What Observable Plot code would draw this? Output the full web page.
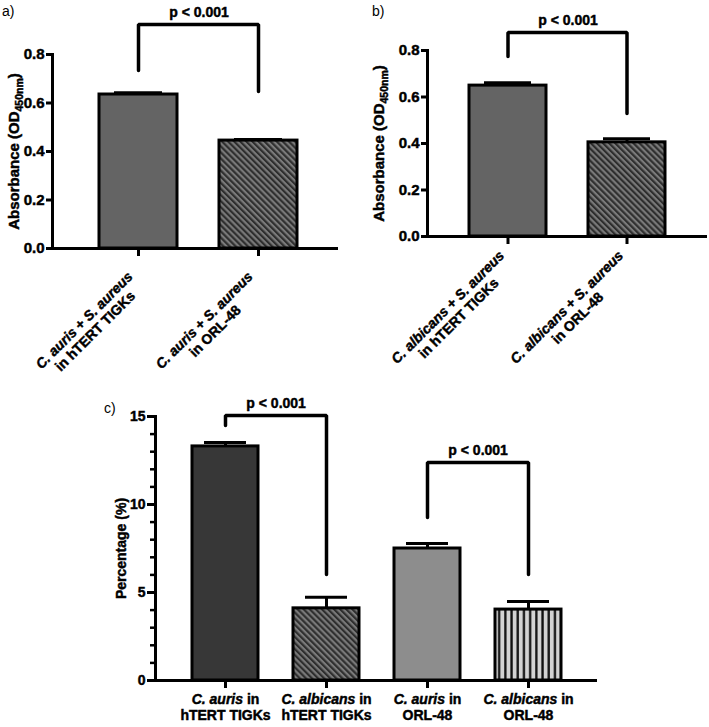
<!DOCTYPE html>
<html>
<head>
<meta charset="utf-8">
<script src="https://cdn.jsdelivr.net/npm/d3@7"></script>
<script src="https://cdn.jsdelivr.net/npm/@observablehq/plot@0.6"></script>
<style>
  body { margin: 0; background: #fff; }
  #fig { position: relative; width: 709px; height: 727px; font-family: "Liberation Sans", Arial, Helvetica, sans-serif; }
  #fig svg text { font-weight: bold; stroke: #000; stroke-width: 0.45px; }
  .tag { position: absolute; font-size: 14px; color: #000; line-height: 1; }
</style>
</head>
<body>
<svg width="0" height="0" style="position:absolute">
  <defs>
    <pattern id="diag" width="4.3" height="4.3" patternUnits="userSpaceOnUse" patternTransform="rotate(-45)">
      <rect width="4.3" height="4.3" fill="#7a7a7a"></rect>
      <rect width="2.15" height="4.3" fill="#2e2e2e"></rect>
    </pattern>
    <pattern id="vert" width="6.2" height="10" patternUnits="userSpaceOnUse">
      <rect width="6.2" height="10" fill="#d3d3d3"></rect>
      <rect x="2" width="2.3" height="10" fill="#111111"></rect>
    </pattern>
  </defs>
</svg>
<div id="fig">
  <div class="tag" style="left:2px;top:4px">a)</div>
  <div class="tag" style="left:372px;top:4px">b)</div>
  <div class="tag" style="left:104px;top:401px">c)</div>
</div>
<script>
// Panel a: biofilm absorbance, C. auris + S. aureus
const groupsA = ["C. auris + S. aureus\nin hTERT TIGKs", "C. auris + S. aureus\nin ORL-48"];
const meansA = [0.635, 0.445];
const semA = [0.007, 0.004];

// Panel b: biofilm absorbance, C. albicans + S. aureus
const groupsB = ["C. albicans + S. aureus\nin hTERT TIGKs", "C. albicans + S. aureus\nin ORL-48"];
const meansB = [0.649, 0.405];
const semB = [0.012, 0.015];

// Panel c: percentage per cell line
const groupsC = ["C. auris in\nhTERT TIGKs", "C. albicans in\nhTERT TIGKs", "C. auris in\nORL-48", "C. albicans in\nORL-48"];
const meansC = [13.3, 4.1, 7.5, 4.03];
const semC = [0.22, 0.63, 0.28, 0.46];

// Axis ticks and labels
const ticksAB = [0, 0.2, 0.4, 0.6, 0.8];
const ticksC = [0, 5, 10, 15];
const minorTicksC = d3.range(0, 16);
const yLabelAbs = "Absorbance (OD450nm)";
const yLabelPct = "Percentage (%)";
const pLabel = "p < 0.001";

// Significance brackets: y of left foot, top, top, right foot
const bracketA = [0.734, 0.924, 0.924, 0.647];
const bracketB = [0.774, 0.877, 0.877, 0.529];
const bracketC1 = [14.49, 15.06, 15.06, 6.02];
const bracketC2 = [9.26, 12.39, 12.39, 6.02];

// Bar fills
const fillsAB = ["#646464", "url(#diag)"];
const fillsC = ["#373737", "url(#diag)", "#8d8d8d", "url(#vert)"];

const FONT = '"Liberation Sans", Arial, Helvetica, sans-serif';
const baseStyle = {fontFamily: FONT, color: "black", background: "transparent", overflow: "visible"};
const fig = document.getElementById("fig");

function rowsOf(groups, means, sems) {
  return groups.map((g, i) => ({group: g, mean: means[i], sem: sems[i]}));
}

function barMarks(rows, fills, capInset) {
  return [
    ...rows.map((r, i) => Plot.barY([r], {x: "group", y: "mean", fill: fills[i], stroke: "black", strokeWidth: 3})),
    Plot.ruleX(rows, {x: "group", y1: "mean", y2: d => d.mean + d.sem, strokeWidth: 3}),
    Plot.tickY(rows, {x: "group", y: d => d.mean + d.sem, strokeWidth: 3, inset: capInset})
  ];
}

function bracketMarks(ys, g0, g1, dx, dy) {
  const xs = [g0, g0, g1, g1];
  return [
    Plot.line(ys, {x: (d, i) => xs[i], y: d => d, strokeWidth: 3.5, strokeLinejoin: "miter"}),
    Plot.text([pLabel], {x: () => g0, y: () => ys[1], dx, dy, lineAnchor: "bottom", fontSize: 14, fontWeight: "bold"})
  ];
}

function absorbancePanel(groups, means, sems, bracket, o) {
  const rows = rowsOf(groups, means, sems);
  return Plot.plot({
    width: o.width, height: 400,
    marginLeft: o.ml, marginRight: o.mr, marginTop: o.mt, marginBottom: 400 - o.y0,
    style: baseStyle,
    x: {domain: groups, paddingInner: 0.35, paddingOuter: o.po, align: o.align, label: null},
    y: {domain: [0, 0.8], label: null},
    marks: [
      ...barMarks(rows, fillsAB, 15),
      Plot.frame({anchor: "left", strokeWidth: 3}),
      Plot.ruleY([0], {strokeWidth: 3}),
      Plot.axisY({ticks: ticksAB, tickFormat: d3.format(".1f"), tickSize: 6, tickPadding: 2, strokeWidth: 3,
                  fontSize: 15, fontWeight: "bold", label: null}),
      Plot.axisX({tickSize: 8, strokeWidth: 3, tickFormat: () => "", label: null}),
      Plot.text(groups, {x: d => d, frameAnchor: "bottom", rotate: -45, textAnchor: "middle", lineAnchor: "middle",
                         lineHeight: 1.1, fontSize: 14, fontWeight: "bold", dx: o.ldx, dy: o.ldy}),
      Plot.text([yLabelAbs], {frameAnchor: "left", rotate: -90, dx: o.ydx, textAnchor: "middle", lineAnchor: "middle",
                              fontSize: 15, fontWeight: "bold"}),
      ...bracketMarks(bracket, groups[0], groups[1], o.pdx, o.pdy)
    ]
  });
}

const plotA = absorbancePanel(groupsA, meansA, semA, bracketA,
  {width: 345, ml: 52, mr: 7, mt: 54, y0: 248, po: 0.357, align: 0.53, ldx: -49, ldy: 77, ydx: -38.5, pdx: 60.5, pdy: -7});
const plotB = absorbancePanel(groupsB, meansB, semB, bracketB,
  {width: 354, ml: 72, mr: 2, mt: 50, y0: 236, po: 0.342, align: 0.5, ldx: -55, ldy: 76, ydx: -48, pdx: 60, pdy: -8});

const rowsC = rowsOf(groupsC, meansC, semC);
const plotC = Plot.plot({
  width: 709, height: 347,
  marginLeft: 155, marginRight: 112, marginTop: 36, marginBottom: 47,
  style: baseStyle,
  x: {domain: groupsC, paddingInner: 0.35, paddingOuter: 0.357, label: null},
  y: {domain: [0, 15], label: null},
  marks: [
    ...barMarks(rowsC, fillsC, 12),
    Plot.frame({anchor: "left", strokeWidth: 3}),
    Plot.ruleY([0], {strokeWidth: 3}),
    Plot.axisY({ticks: minorTicksC, tickSize: 5, tickFormat: () => "", strokeWidth: 2.5, label: null}),
    Plot.axisY({ticks: ticksC, tickSize: 8, tickPadding: 2, strokeWidth: 3, fontSize: 14, fontWeight: "bold", label: null}),
    Plot.axisX({tickSize: 8, tickPadding: 5, strokeWidth: 3, fontSize: 14, fontWeight: "bold", lineHeight: 1.1, label: null}),
    Plot.text([yLabelPct], {frameAnchor: "left", rotate: -90, dx: -34, textAnchor: "middle", lineAnchor: "middle",
                            fontSize: 14, fontWeight: "bold"}),
    ...bracketMarks(bracketC1, groupsC[0], groupsC[1], 50.6, -7),
    ...bracketMarks(bracketC2, groupsC[2], groupsC[3], 50.6, -7)
  ]
});

const NS = "http://www.w3.org/2000/svg";

// Species names in italics
function italicize(svg) {
  svg.querySelectorAll("text").forEach(text => {
    const lines = Array.from(text.querySelectorAll("tspan"));
    const targets = lines.length ? lines : [text];
    for (const el of targets) {
      const s = el.textContent;
      if (!/(C\. auris|C\. albicans|S\. aureus)/.test(s)) continue;
      el.textContent = "";
      for (const part of s.split(/(C\. auris|C\. albicans|S\. aureus)/)) {
        if (!part) continue;
        const t = document.createElementNS(NS, "tspan");
        if (/^(C\. auris|C\. albicans|S\. aureus)$/.test(part)) t.setAttribute("font-style", "italic");
        t.textContent = part;
        el.appendChild(t);
      }
    }
  });
}

// Subscript wavelength in the absorbance label
function subscript(svg) {
  svg.querySelectorAll("text").forEach(text => {
    if (text.textContent !== yLabelAbs) return;
    const [head, tail] = yLabelAbs.split("450nm");
    text.textContent = "";
    const a = document.createElementNS(NS, "tspan"); a.textContent = head;
    const b = document.createElementNS(NS, "tspan"); b.textContent = "450nm";
    b.setAttribute("font-size", "10.5"); b.setAttribute("dy", "4");
    const c = document.createElementNS(NS, "tspan"); c.textContent = tail; c.setAttribute("dy", "-4");
    text.append(a, b, c);
  });
}

function place(node, left, top) {
  node.style.position = "absolute";
  node.style.left = left + "px";
  node.style.top = top + "px";
  italicize(node);
  subscript(node);
  fig.appendChild(node);
}

place(plotA, 0, 0);
place(plotB, 355, 0);
place(plotC, 0, 380);
</script>
</body>
</html>
